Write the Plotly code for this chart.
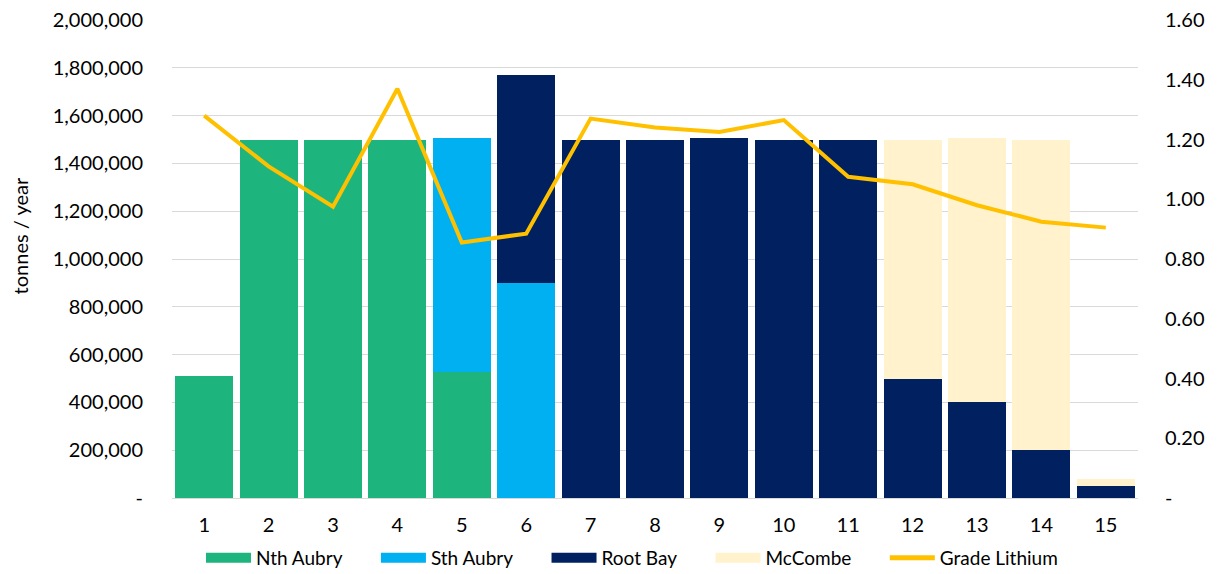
import plotly.graph_objects as go

years = [str(i) for i in range(1, 16)]
nth_aubry = [510000, 1500000, 1500000, 1500000, 527000, 0, 0, 0, 0, 0, 0, 0, 0, 0, 0]
sth_aubry = [0, 0, 0, 0, 980000, 900000, 0, 0, 0, 0, 0, 0, 0, 0, 0]
root_bay = [0, 0, 0, 0, 0, 870000, 1500000, 1500000, 1505000, 1500000, 1500000, 500000, 400000, 200000, 50000]
mccombe = [0, 0, 0, 0, 0, 0, 0, 0, 0, 0, 0, 1000000, 1105000, 1300000, 30000]
grade_lithium = [1.28, 1.11, 0.975, 1.37, 0.855, 0.885, 1.27, 1.24, 1.225, 1.265, 1.075, 1.05, 0.98, 0.925, 0.905]

y_ticks = [0, 200000, 400000, 600000, 800000, 1000000, 1200000, 1400000, 1600000, 1800000, 2000000]
y_ticktext = ["-"] + [f"{v:,}" for v in y_ticks[1:]]
y2_ticks = [0, 0.2, 0.4, 0.6, 0.8, 1.0, 1.2, 1.4, 1.6]
y2_ticktext = ["-"] + [f"{v:.2f}" for v in y2_ticks[1:]]

font_family = "Lato, Open Sans, sans-serif"
legend_pad = "\u2002" * 3  # visual gap after each legend label, like the original

series = [
    ("Nth Aubry", nth_aubry, "#1DB57D"),
    ("Sth Aubry", sth_aubry, "#00B0F0"),
    ("Root Bay", root_bay, "#002060"),
    ("McCombe", mccombe, "#FFF2CC"),
]

fig = go.Figure()
for name, vals, color in series:
    fig.add_trace(go.Bar(x=years, y=vals, name=name, showlegend=False,
                         marker=dict(color=color, line=dict(width=0))))

fig.add_trace(go.Scatter(x=years, y=grade_lithium, name="Grade Lithium", mode="lines",
                         line=dict(color="#FFC000", width=4), yaxis="y2", showlegend=False))

# legend entries (wide rectangle swatches like the original)
for name, vals, color in series:
    fig.add_trace(go.Scatter(x=[None], y=[None], name=name + legend_pad, mode="lines",
                             line=dict(color=color, width=12), showlegend=True))
fig.add_trace(go.Scatter(x=[None], y=[None], name="Grade Lithium", mode="lines",
                         line=dict(color="#FFC000", width=5), showlegend=True))

fig.update_layout(
    barmode="stack",
    bargap=0.1,
    width=1219, height=574,
    margin=dict(l=172, r=81, t=20, b=76, autoexpand=False),
    plot_bgcolor="white", paper_bgcolor="white",
    font=dict(family=font_family, size=20, color="#000000"),
    xaxis=dict(type="category", showgrid=False, showline=True, linecolor="#D9D9D9", linewidth=1,
               tickfont=dict(size=20), ticks="", ticklabelstandoff=9, automargin=False),
    yaxis=dict(range=[0, 2000000], tickvals=y_ticks, ticktext=y_ticktext,
               showgrid=True, gridcolor="#D9D9D9", gridwidth=1, zeroline=False, automargin=False,
               tickfont=dict(size=20), ticklabelstandoff=28, ticklabeloverflow="allow"),
    yaxis2=dict(range=[0, 1.6], tickvals=y2_ticks, ticktext=y2_ticktext, overlaying="y", side="right",
                showgrid=False, zeroline=False, tickfont=dict(size=20), ticklabelstandoff=26,
                automargin=False, ticklabeloverflow="allow"),
    legend=dict(orientation="h", x=0.030, xanchor="left", yref="container", y=0.0279, yanchor="middle",
                font=dict(size=19), traceorder="normal", itemwidth=45),
    annotations=[dict(text="tonnes / year", textangle=-90, xref="paper", yref="paper",
                      x=-0.157, y=0.548, xanchor="center", yanchor="middle", showarrow=False,
                      font=dict(size=20))],
)

fig.write_html("out.html", config={"displayModeBar": False},
               post_script="document.body.style.margin='0';")
